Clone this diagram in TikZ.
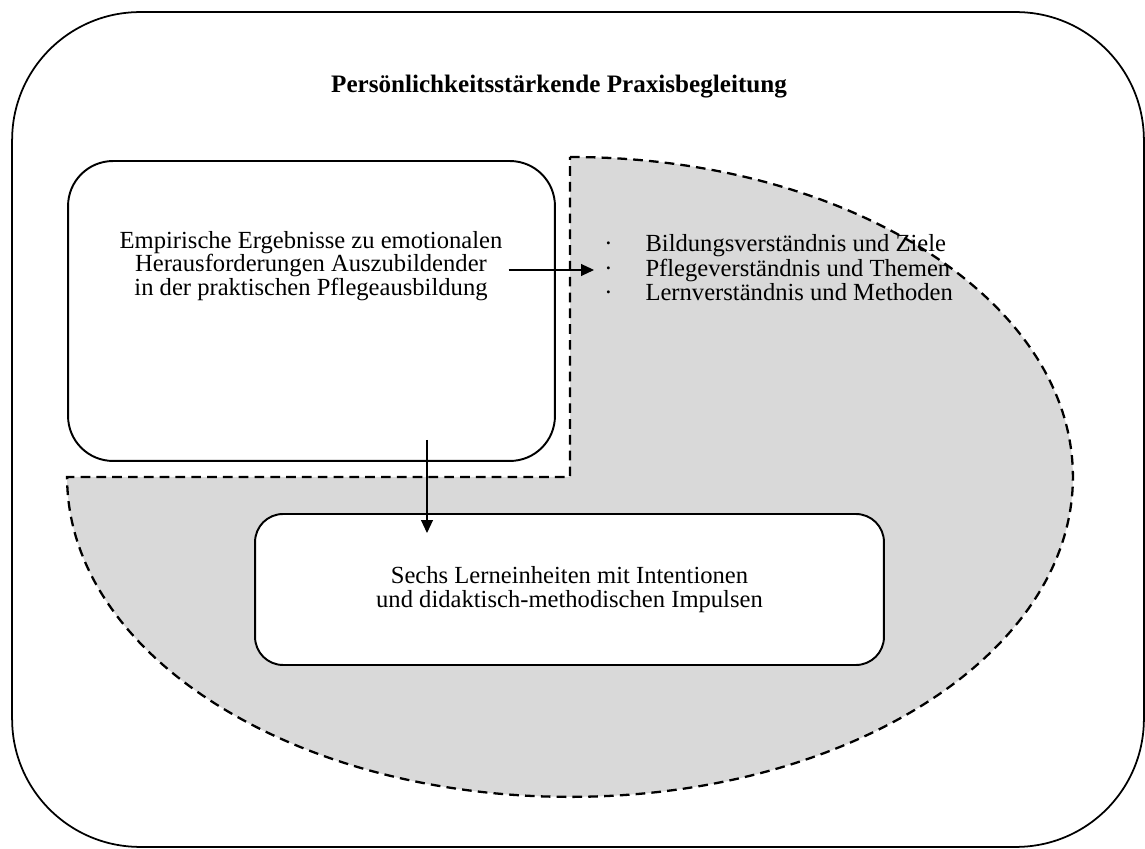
\documentclass[tikz,border=0pt]{standalone}
\usepackage{fontspec}
\setmainfont{Liberation Serif}
\usepackage{tikz}
\usetikzlibrary{positioning}
\usetikzlibrary{arrows.meta}
\definecolor{shadegrey}{HTML}{D9D9D9}
\tikzstyle{arrow} = [line width=0.6pt,-{Triangle[length=0.26cm,width=0.24cm]}]
\tikzstyle{roundbox} = [draw,line width=1.1pt,fill=white,outer sep=0pt]
\tikzstyle{bodytext} = [font=\fontsize{14}{13.3}\selectfont,align=center]

\begin{document}
\begin{tikzpicture}[x=0.02cm,y=0.02cm]
	\useasboundingbox (0,0) rectangle (1145,848);
	
	%Frame and shaded area
	\node [draw,line width=1pt,rounded corners=2.56cm,minimum width=22.64cm,minimum height=16.7cm] (frame) at (578,418.5) {};
	\node [bodytext,font=\fontsize{14.3}{13.3}\selectfont\bfseries] (title) at (559,761) {Persönlichkeitsstärkende Praxisbegleitung};
	\coordinate (centre) at (570,371);
	\draw [dashed,line width=1.3pt,dash pattern=on 5.5pt off 3.5pt,fill=shadegrey] (570,691) arc[start angle=90,end angle=-180,x radius=10.06cm,y radius=6.4cm] -- (centre) -- cycle;
	
	%Nodes
	\node [roundbox,rounded corners=0.9cm,minimum width=9.74cm,minimum height=6.0cm] (results) at (311.5,537) {};
	\node [bodytext] (resultstext) at (311,582) {Empirische Ergebnisse zu emotionalen\\Herausforderungen Auszubildender\\in der praktischen Pflegeausbildung};
	\node [bodytext,anchor=west,inner sep=0pt] (aims) at (604,577) {\begin{tabular}{@{}l@{\hspace{0.66cm}}l@{}}
		\textperiodcentered & Bildungsverständnis und Ziele\\
		\textperiodcentered & Pflegeverständnis und Themen\\
		\textperiodcentered & Lernverständnis und Methoden
	\end{tabular}};
	\node [roundbox,rounded corners=0.56cm,minimum width=12.58cm,minimum height=3.02cm] (units) at (569.5,258.5) {};
	\node [bodytext] (unitstext) at (units) {Sechs Lerneinheiten mit Intentionen\\und didaktisch-methodischen Impulsen};
	
	\coordinate (down) at (427,408);
	
	%Lines
	\draw [arrow] ([yshift=-0.08cm]resultstext.east) -- ([xshift=-0.2cm,yshift=-0.08cm]resultstext.east -| aims.west);
	\draw [arrow] (down) -- ([yshift=-0.38cm]down |- units.north);
\end{tikzpicture}
\end{document}
